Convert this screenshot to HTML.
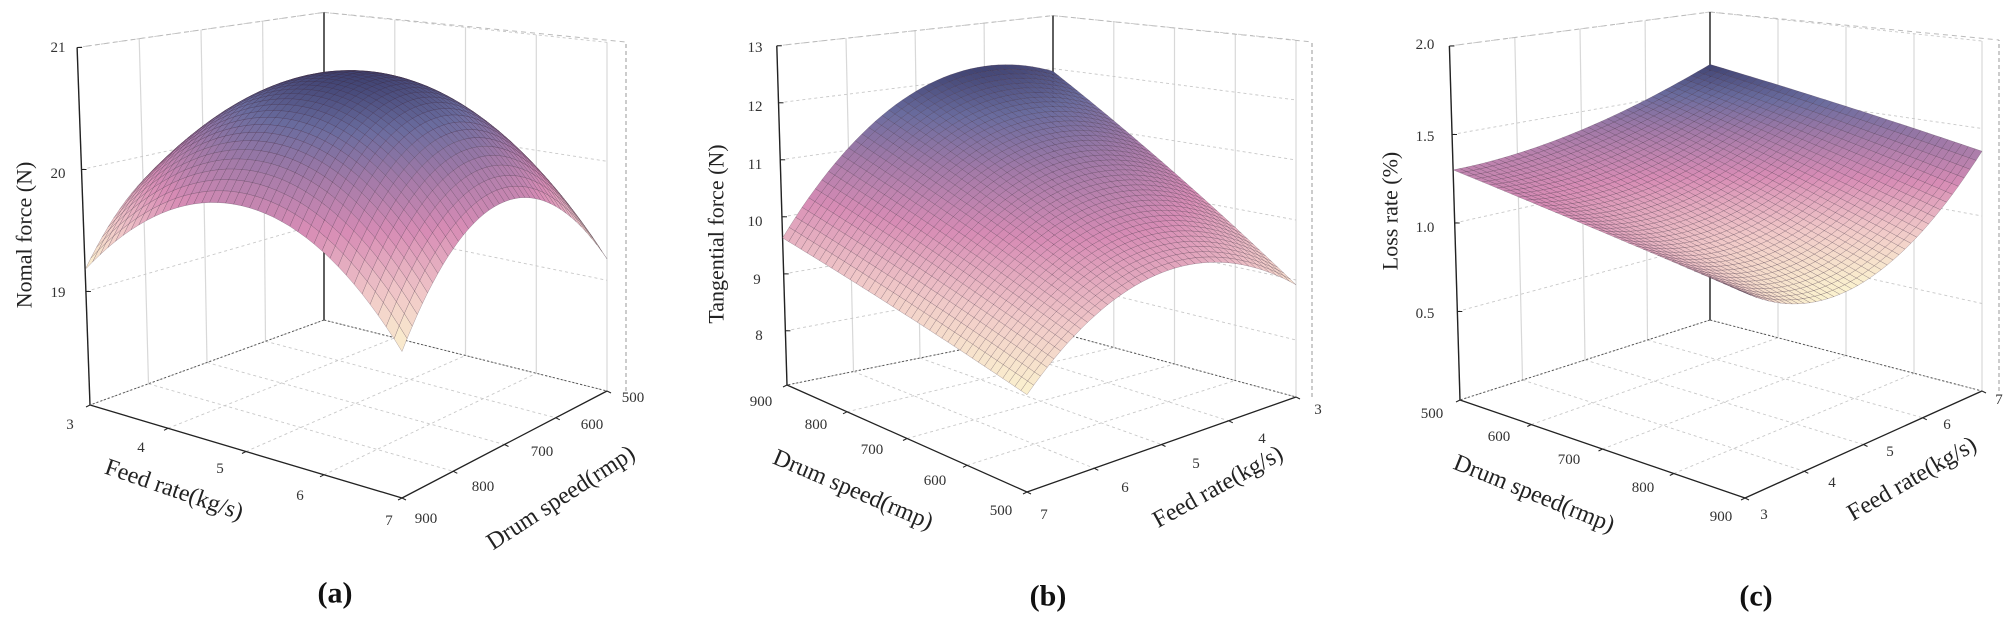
<!DOCTYPE html>
<html><head><meta charset="utf-8"><style>
html,body{margin:0;padding:0;background:#fff;}
svg{display:block;font-family:"Liberation Serif",serif;}
</style></head><body>
<svg id="s" width="2008" height="622" viewBox="0 0 2008 622" xmlns="http://www.w3.org/2000/svg">
<g id="g"></g>
<g font-size="15" fill="#333" text-anchor="middle" dominant-baseline="central">
<text x="58" y="48">21</text><text x="58" y="174">20</text><text x="58" y="293">19</text>
<text x="70" y="425">3</text><text x="141" y="448">4</text><text x="220" y="469">5</text><text x="300" y="496">6</text><text x="389" y="521">7</text>
<text x="633" y="398">500</text><text x="592" y="425">600</text><text x="542" y="452">700</text><text x="483" y="487">800</text><text x="426" y="519">900</text>

<text x="755" y="48">13</text><text x="755" y="107">12</text><text x="755" y="165">11</text><text x="755" y="222">10</text><text x="757" y="280">9</text><text x="759" y="336">8</text>
<text x="761" y="402">900</text><text x="816" y="425">800</text><text x="872" y="450">700</text><text x="935" y="481">600</text><text x="1001" y="511">500</text>
<text x="1318" y="410">3</text><text x="1262" y="439">4</text><text x="1196" y="464">5</text><text x="1125" y="488">6</text><text x="1044" y="515">7</text>

<text x="1425" y="45">2.0</text><text x="1425" y="137">1.5</text><text x="1425" y="228">1.0</text><text x="1425" y="314">0.5</text>
<text x="1432" y="414">500</text><text x="1499" y="437">600</text><text x="1569" y="460">700</text><text x="1643" y="488">800</text><text x="1721" y="517">900</text>
<text x="1764" y="515">3</text><text x="1832" y="483">4</text><text x="1890" y="452">5</text><text x="1947" y="425">6</text><text x="1999" y="400">7</text>
</g>
<g font-size="24" fill="#222" text-anchor="middle" dominant-baseline="central">
<text transform="translate(24,235) rotate(-90)" font-size="22">Nomal force (N)</text>
<text transform="translate(174,490) rotate(19)">Feed rate(kg/s)</text>
<text transform="translate(561,498) rotate(-33)">Drum speed(rmp)</text>
<text transform="translate(716,234) rotate(-90)" font-size="22">Tangential force (N)</text>
<text transform="translate(853,490) rotate(23)">Drum speed(rmp)</text>
<text transform="translate(1218,487) rotate(-29)">Feed rate(kg/s)</text>
<text transform="translate(1390,211) rotate(-90)" font-size="22">Loss rate (%)</text>
<text transform="translate(1534,494) rotate(22)">Drum speed(rmp)</text>
<text transform="translate(1912,479) rotate(-30)">Feed rate(kg/s)</text>
</g>
<g font-size="30" font-weight="bold" fill="#111" text-anchor="middle" dominant-baseline="central">
<text x="335" y="593">(a)</text><text x="1048" y="596">(b)</text><text x="1756" y="596">(c)</text>
</g>
</svg>
<script>
(function(){
var NS="http://www.w3.org/2000/svg",G=document.getElementById("g");
function el(t,a){var e=document.createElementNS(NS,t);for(var k in a)e.setAttribute(k,a[k]);G.appendChild(e);return e;}
function rowz(r,u){return r[0]+r[1]*u+r[2]*u*u;}
var P=[
{L:[90,405],F:[402,498],B:[324,320],R:[607,391],k:[122,132,105,119],sL:-0.036,z0:18.07,zmax:21,zt:[19,20,21],
 f:function(p,q){return 20.83-3.3*(p-.5)*(p-.5)-3.3*(q-.5)*(q-.5);},rx:626,rt:42},
{L:[787,385],F:[1027,492],B:[1053,331],R:[1296,397],k:[57,64,53,60],sL:-0.03,z0:7.05,zmax:13,zt:[8,9,10,11,12,13],
 f:function(p,q){var u=1-q,v=1-p;return rowz([8.92,3.95,-4.3],u)*(1-v)+rowz([11.95,2.12,-4.44],u)*v;},rx:1312,rt:42},
{L:[1460,400],F:[1745,498],B:[1710,320],R:[1982,391],k:[177,190,154,175],sL:-0.03,z0:0,zmax:2,zt:[0.5,1,1.5,2],
 f:function(p,q){var u=q,v=p;return rowz([1.3,0,0.36],u)*(1-v)+rowz([1.08,-1.05,1.34],u)*v;},rx:1999,rt:40}
];
var stops=[[0,[251,243,207]],[0.22,[240,200,200]],[0.45,[215,140,181]],[0.65,[163,122,168]],[0.83,[106,108,158]],[1,[63,66,113]]];
function cmap(t){t=Math.max(0,Math.min(1,t));for(var i=1;i<stops.length;i++){if(t<=stops[i][0]){var a=stops[i-1],b=stops[i],s=(t-a[0])/(b[0]-a[0]);
 return "rgb("+[0,1,2].map(function(j){return Math.round(a[1][j]+(b[1][j]-a[1][j])*s);}).join(",")+")";}}return "rgb(63,66,113)";}
P.forEach(function(c){
 function bl(A,Bv,Cv,D,p,q){return A*(1-p)*(1-q)+Bv*p*(1-q)+Cv*(1-p)*q+D*p*q;}
 function pr(p,q,h){var x=bl(c.L[0],c.F[0],c.B[0],c.R[0],p,q),y=bl(c.L[1],c.F[1],c.B[1],c.R[1],p,q),k=bl(c.k[0],c.k[1],c.k[2],c.k[3],p,q),
  s=c.sL*(1-p)*(1-q);return [x+h*k*s,y-h*k];}
 function line(a,b,st){el("line",{x1:a[0].toFixed(1),y1:a[1].toFixed(1),x2:b[0].toFixed(1),y2:b[1].toFixed(1),stroke:st.c,"stroke-width":st.w,"stroke-dasharray":st.d||"none"});}
 var H=c.zmax-c.z0,grid={c:"#c8c8c8",w:0.9,d:"3,3"},vg={c:"#d8d8d8",w:1.2};
 var T=[0,.25,.5,.75,1];
 T.forEach(function(t){line(pr(t,0,0),pr(t,1,0),grid);line(pr(0,t,0),pr(1,t,0),grid);
  line(pr(0,t,0),pr(0,t,H),vg);line(pr(t,1,0),pr(t,1,H),vg);});
 c.zt.forEach(function(z){var h=z-c.z0;line(pr(0,0,h),pr(0,1,h),grid);line(pr(0,1,h),pr(1,1,h),grid);});
 line(pr(0,0,H),pr(0,1,H),{c:"#bbb",w:1,d:"5,4"});line(pr(0,1,H),[c.rx,c.rt],{c:"#bbb",w:1,d:"5,4"});
 line([c.rx,c.R[1]],[c.rx,c.rt],{c:"#999",w:1,d:"4,3"});
 line(c.L,c.F,{c:"#222",w:1.3});line(c.F,c.R,{c:"#222",w:1.3});
 line(c.L,pr(0,0,H),{c:"#222",w:1.4});line(c.B,pr(0,1,H),{c:"#222",w:1.4});
 line(c.B,c.L,{c:"#555",w:1,d:"2,2"});line(c.B,c.R,{c:"#555",w:1,d:"2,2"});
 var N=40,zs=[],mn=1e9,mx=-1e9;
 for(var i=0;i<=N;i++){zs[i]=[];for(var j=0;j<=N;j++){var z=c.f(i/N,j/N);zs[i][j]=z;mn=Math.min(mn,z);mx=Math.max(mx,z);}}
 var quads=[];for(var i=0;i<N;i++)for(var j=0;j<N;j++)quads.push([i,j]);
 quads.sort(function(a,b){return (a[0]-a[1])-(b[0]-b[1]);});
 quads.forEach(function(Q){var i=Q[0],j=Q[1],pts=[[i,j],[i+1,j],[i+1,j+1],[i,j+1]],zz=0;
  var s=pts.map(function(a){var z=zs[a[0]][a[1]];zz+=z;var v=pr(a[0]/N,a[1]/N,z-c.z0);return v[0].toFixed(1)+","+v[1].toFixed(1);}).join(" ");
  var col=cmap((zz/4-mn)/(mx-mn));
  el("polygon",{points:s,fill:col,stroke:"rgba(60,40,60,0.4)","stroke-width":0.5});});
 T.forEach(function(t){var a=pr(t,0,0);line(a,[a[0]-4,a[1]+2],{c:"#222",w:1});var b=pr(1,t,0);line(b,[b[0]+4,b[1]+2],{c:"#222",w:1});});
 c.zt.forEach(function(z){var a=pr(0,0,z-c.z0);line(a,[a[0]+5,a[1]],{c:"#222",w:1});});
});
})();
</script>
</body></html>
